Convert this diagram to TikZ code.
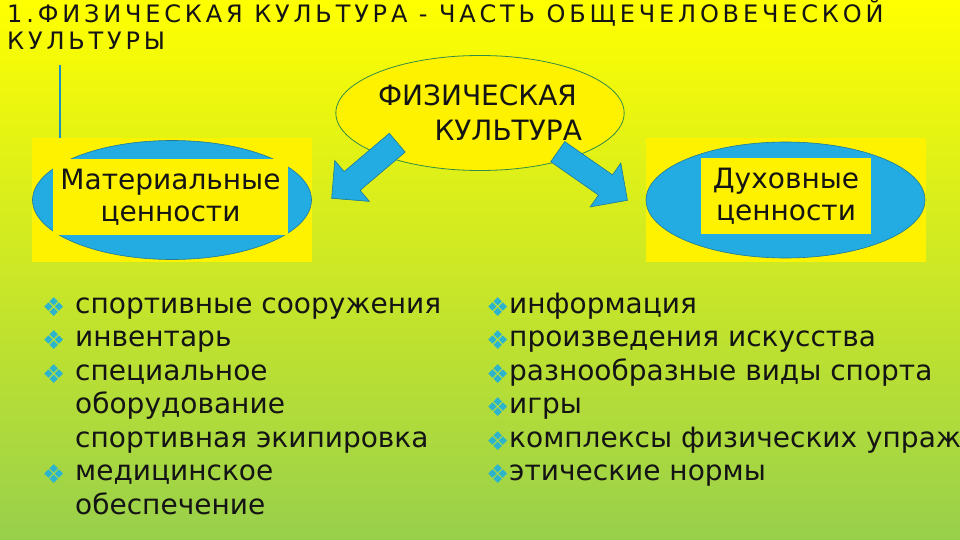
\documentclass[tikz,border=0pt]{standalone}
\usepackage{fontspec}
\setmainfont{DejaVu Sans}
\newfontfamily\titlefont[LetterSpace=16]{DejaVu Sans}
\usetikzlibrary{shapes.geometric,shapes.arrows}
\definecolor{bgtop}{RGB}{255,255,0}
\definecolor{bgmid}{RGB}{205,232,38}
\definecolor{bgbot}{RGB}{152,208,76}
\definecolor{ovalblue}{RGB}{34,172,226}
\definecolor{ovalline}{RGB}{30,120,150}
\definecolor{rimgreen}{RGB}{50,140,70}
\definecolor{bulletblue}{RGB}{45,180,205}
\definecolor{ink}{RGB}{20,20,20}

\tikzset{
  valuebox/.style={fill=yellow, minimum width=280pt, minimum height=123pt, inner sep=0pt},
  valueoval/.style={ellipse, fill=ovalblue, draw=ovalline, line width=0.6pt,
    minimum width=279pt, minimum height=119pt, inner sep=0pt},
  valuetext/.style={fill=yellow, align=center, inner sep=0pt, text=ink,
    font=\fontsize{28}{32}\selectfont},
  coreoval/.style={ellipse, fill=yellow, draw=rimgreen, line width=0.8pt, align=right,
    minimum width=280pt, minimum height=115pt, inner sep=0pt, text=ink,
    font=\fontsize{28}{35}\selectfont},
  bigarrow/.style={single arrow, fill=ovalblue, draw=ovalline, line width=0.6pt,
    text height=24pt, text depth=0pt, inner sep=0pt, minimum width=53pt,
    single arrow head extend=14.5pt, sloped, allow upside down},
  item/.style={anchor=base west, inner sep=0pt, text=ink, font=\fontsize{28}{33}\selectfont},
  dot/.style={anchor=base west, inner sep=0pt, yshift=-3pt, text=bulletblue,
    font=\fontsize{26}{26}\selectfont},
}

\begin{document}
\begin{tikzpicture}[x=1pt,y=-1pt]
\useasboundingbox (0,0) rectangle (960,540);
\clip (0,0) rectangle (960,540);
\shade[top color=bgtop, middle color=bgmid, bottom color=bgbot] (0,0) rectangle (960,540);
% ---- title ----
\node[anchor=south west, inner sep=0pt, align=left, text=ink,
  font=\titlefont\fontsize{24}{27}\selectfont] (title) at (7,50)
  {1.ФИЗИЧЕСКАЯ КУЛЬТУРА - ЧАСТЬ ОБЩЕЧЕЛОВЕЧЕСКОЙ\\КУЛЬТУРЫ};
\draw[ovalblue!85!black, line width=2.5pt] (60,65) -- (60,139);
% ---- values ----
\node[valuebox] (matbox) at (172,200) {};
\node[valueoval] (matoval) at (172,200) {};
\node[valuetext, minimum width=235pt, minimum height=76pt] (mattext) at (170.5,197)
  {Материальные\\ценности};
\node[valuebox] (dukhbox) at (786,200) {};
\node[valueoval, minimum height=116pt] (dukhoval) at (785.5,200) {};
\node[valuetext, minimum width=170pt, minimum height=76pt] (dukhtext) at (786,196)
  {Духовные\\ценности};
% ---- centre ----
\node[coreoval] (core) at (480,113) {ФИЗИЧЕСКАЯ\hspace*{5pt}\\КУЛЬТУРА};
\coordinate (ltail) at (397.5,142.5);
\coordinate (ltip) at (332,198);
\coordinate (rtail) at (557.5,151.5);
\coordinate (rtip) at (627,200);
\path (ltail) -- (ltip) node[bigarrow, at start, anchor=tail, minimum height=86pt] (arrL) {};
\path (rtail) -- (rtip) node[bigarrow, at start, anchor=tail, minimum height=85pt] (arrR) {};
% ---- lists ----
\foreach \b/\t [count=\i] in {1/спортивные сооружения, 1/инвентарь, 1/специальное,
    0/оборудование, 0/спортивная экипировка, 1/медицинское, 0/обеспечение}{
  \node[item] (mat\i) at (75,{313+33.5*(\i-1)}) {\t};
  \ifnum\b=1 \node[dot] (matdot\i) at (42,{313+33.5*(\i-1)}) {❖};\fi}
\foreach \t [count=\i] in {информация, произведения искусства, разнообразные виды спорта,
    игры, комплексы физических упражнений, этические нормы}{
  \node[item] (dukh\i) at (509,{313+33.5*(\i-1)}) {\t};
  \node[dot] (dukhdot\i) at (486,{313+33.5*(\i-1)}) {❖};}
\end{tikzpicture}
\end{document}
